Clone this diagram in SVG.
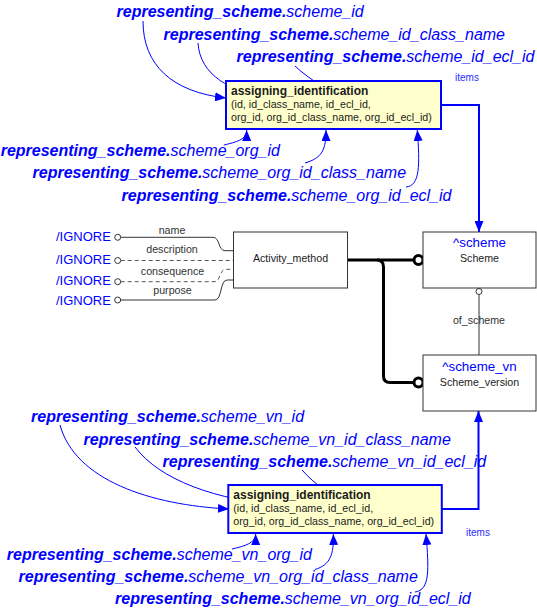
<svg xmlns="http://www.w3.org/2000/svg" width="537" height="611" viewBox="0 0 537 611">
<style>
.lbl{font-family:"Liberation Sans",Arial,sans-serif;font-size:16px;font-style:italic;fill:#0000ff}
.lbl .b{font-weight:bold}
.bt{font-family:"Liberation Sans",Arial,sans-serif;font-size:10.67px;fill:#1a1a1a}
.btt{font-family:"Liberation Sans",Arial,sans-serif;font-size:12px;font-weight:bold;fill:#1a1a1a}
.ai{fill:#ffffcc;stroke:#0000ff;stroke-width:2}
.ent{fill:#ffffff;stroke:#333333;stroke-width:1}
.et{font-family:"Liberation Sans",Arial,sans-serif;font-size:10.67px;fill:#222222;text-anchor:middle}
.eh{font-family:"Liberation Sans",Arial,sans-serif;font-size:13.33px;fill:#0000ff;text-anchor:middle}
.ign{font-family:"Liberation Sans",Arial,sans-serif;font-size:13px;fill:#0000ff}
.al{font-family:"Liberation Sans",Arial,sans-serif;font-size:10.67px;fill:#333333;text-anchor:middle}
.it{font-family:"Liberation Sans",Arial,sans-serif;font-size:10px;fill:#2a2aff}
.cv{fill:none;stroke:#0000ff;stroke-width:1;marker-end:url(#ah)}
.itm{fill:none;stroke:#0000ff;stroke-width:2;marker-end:url(#ah2)}
.thk{fill:none;stroke:#000000;stroke-width:3}
.thin{fill:none;stroke:#333333;stroke-width:1}
.dash{fill:none;stroke:#555555;stroke-width:1;stroke-dasharray:4,3}
.oc{fill:#ffffff;stroke:#000000;stroke-width:3}
.sc{fill:#ffffff;stroke:#333333;stroke-width:1}
</style>
<defs>
<marker id="ah" markerUnits="userSpaceOnUse" markerWidth="12" markerHeight="9" refX="11" refY="4.5" orient="auto">
<path d="M0,0 L11,4.5 L0,9 z" fill="#0000ff"/>
</marker>
<marker id="ah2" markerUnits="userSpaceOnUse" markerWidth="12" markerHeight="9" refX="11" refY="4.5" orient="auto">
<path d="M0,0 L11,4.5 L0,9 z" fill="#0000ff"/>
</marker>
</defs>

<g id="connectors">
<path class="cv" d="M143,21 C143,65 172,92 226,98"/>
<path class="cv" d="M198,43 C200,75 230,92 270,98"/>
<path class="cv" d="M295,66 C310,80 330,92 350,100"/>
<path class="cv" d="M224,145 C236,142 246.7,140 246.7,130"/>
<path class="cv" d="M305,163 C322,158 326,150 326,130"/>
<path class="cv" d="M406,187 C420,186 420,165 417.3,130"/>
<path class="itm" d="M441,105 H479 V232"/>

<path class="cv" d="M60,425 C75,480 150,505 229,509"/>
<path class="cv" d="M135,447 C160,480 215,500 285,506"/>
<path class="cv" d="M302,470 C315,485 335,498 355,506.5"/>
<path class="cv" d="M232,549 C245,546 255.7,543 255.7,534"/>
<path class="cv" d="M315,569.5 C330,565 334,555 333.3,534"/>
<path class="cv" d="M415,592 C430,590 429,570 426,534"/>
<path class="itm" d="M442,509 H478.5 V411"/>

<path class="thk" d="M347,260 H414"/>
<path class="thk" d="M377,260 Q383.5,260 383.5,267 V376 Q383.5,382.5 390,382.5 H414"/>
<circle class="oc" cx="418.5" cy="260" r="4.5"/>
<circle class="oc" cx="418.5" cy="382.5" r="4.5"/>

<path class="thin" d="M479,294.5 V355"/>
<circle class="sc" cx="479" cy="291.5" r="3"/>

<path class="thin" d="M120.7,237.3 H213 C220,237.3 218,250.7 225,250.7 H233"/>
<path class="dash" d="M120.7,260.5 H233"/>
<path class="dash" d="M120.7,281.7 H214 C221,281.7 219,269.3 226,269.3 H233"/>
<path class="thin" d="M120.7,300 H215 C222,300 220,280 227,280 H233"/>
<circle class="sc" cx="117.7" cy="237.3" r="3"/>
<circle class="sc" cx="117.7" cy="260.5" r="3"/>
<circle class="sc" cx="117.7" cy="281.7" r="3"/>
<circle class="sc" cx="117.7" cy="300" r="3"/>
<text class="al" x="172" y="234">name</text>
<text class="al" x="172" y="253.3">description</text>
<text class="al" x="172.5" y="275">consequence</text>
<text class="al" x="172.5" y="294">purpose</text>
<text class="al" x="479" y="323.5">of_scheme</text>
<text class="it" x="455" y="81">items</text>
<text class="it" x="466" y="536">items</text>
</g>

<g id="ignore_labels">
<text class="ign" x="56" y="240.7">/IGNORE</text>
<text class="ign" x="56" y="264">/IGNORE</text>
<text class="ign" x="56" y="285">/IGNORE</text>
<text class="ign" x="56" y="305">/IGNORE</text>
</g>

<g id="top_labels">
<text class="lbl" x="116.5" y="17"><tspan class="b">representing_scheme.</tspan>scheme_id</text>
<text class="lbl" x="163.5" y="40"><tspan class="b">representing_scheme.</tspan>scheme_id_class_name</text>
<text class="lbl" x="236.5" y="62"><tspan class="b">representing_scheme.</tspan>scheme_id_ecl_id</text>
<text class="lbl" x="0.7" y="155.5"><tspan class="b">representing_scheme.</tspan>scheme_org_id</text>
<text class="lbl" x="32.5" y="178"><tspan class="b">representing_scheme.</tspan>scheme_org_id_class_name</text>
<text class="lbl" x="121.5" y="200.5"><tspan class="b">representing_scheme.</tspan>scheme_org_id_ecl_id</text>
</g>

<g id="assigning_identification_top">
<rect class="ai" x="226" y="81" width="215" height="48"/>
<text class="btt" x="231" y="95.3">assigning_identification</text>
<text class="bt" x="231" y="107.8">(id, id_class_name, id_ecl_id,</text>
<text class="bt" x="231" y="121">org_id, org_id_class_name, org_id_ecl_id)</text>
</g>

<g id="activity_method">
<rect class="ent" x="233.5" y="232" width="114" height="56"/>
<text class="et" x="290.5" y="262.3">Activity_method</text>
</g>

<g id="scheme">
<rect class="ent" x="423" y="232" width="113" height="56"/>
<text class="eh" x="479.5" y="246.7">^scheme</text>
<text class="et" x="479.5" y="262.3">Scheme</text>
</g>

<g id="scheme_version">
<rect class="ent" x="423" y="355" width="113" height="56"/>
<text class="eh" x="479.5" y="370.7">^scheme_vn</text>
<text class="et" x="479.5" y="385.7">Scheme_version</text>
</g>

<g id="bottom_labels">
<text class="lbl" x="31" y="422"><tspan class="b">representing_scheme.</tspan>scheme_vn_id</text>
<text class="lbl" x="83.5" y="445"><tspan class="b">representing_scheme.</tspan>scheme_vn_id_class_name</text>
<text class="lbl" x="162.5" y="467"><tspan class="b">representing_scheme.</tspan>scheme_vn_id_ecl_id</text>
<text class="lbl" x="6.8" y="560"><tspan class="b">representing_scheme.</tspan>scheme_vn_org_id</text>
<text class="lbl" x="18.5" y="582"><tspan class="b">representing_scheme.</tspan>scheme_vn_org_id_class_name</text>
<text class="lbl" x="115" y="604"><tspan class="b">representing_scheme.</tspan>scheme_vn_org_id_ecl_id</text>
</g>

<g id="assigning_identification_bottom">
<rect class="ai" x="228.3" y="485" width="213.5" height="48"/>
<text class="btt" x="233.3" y="499.3">assigning_identification</text>
<text class="bt" x="233.3" y="511.8">(id, id_class_name, id_ecl_id,</text>
<text class="bt" x="233.3" y="525">org_id, org_id_class_name, org_id_ecl_id)</text>
</g>
</svg>
